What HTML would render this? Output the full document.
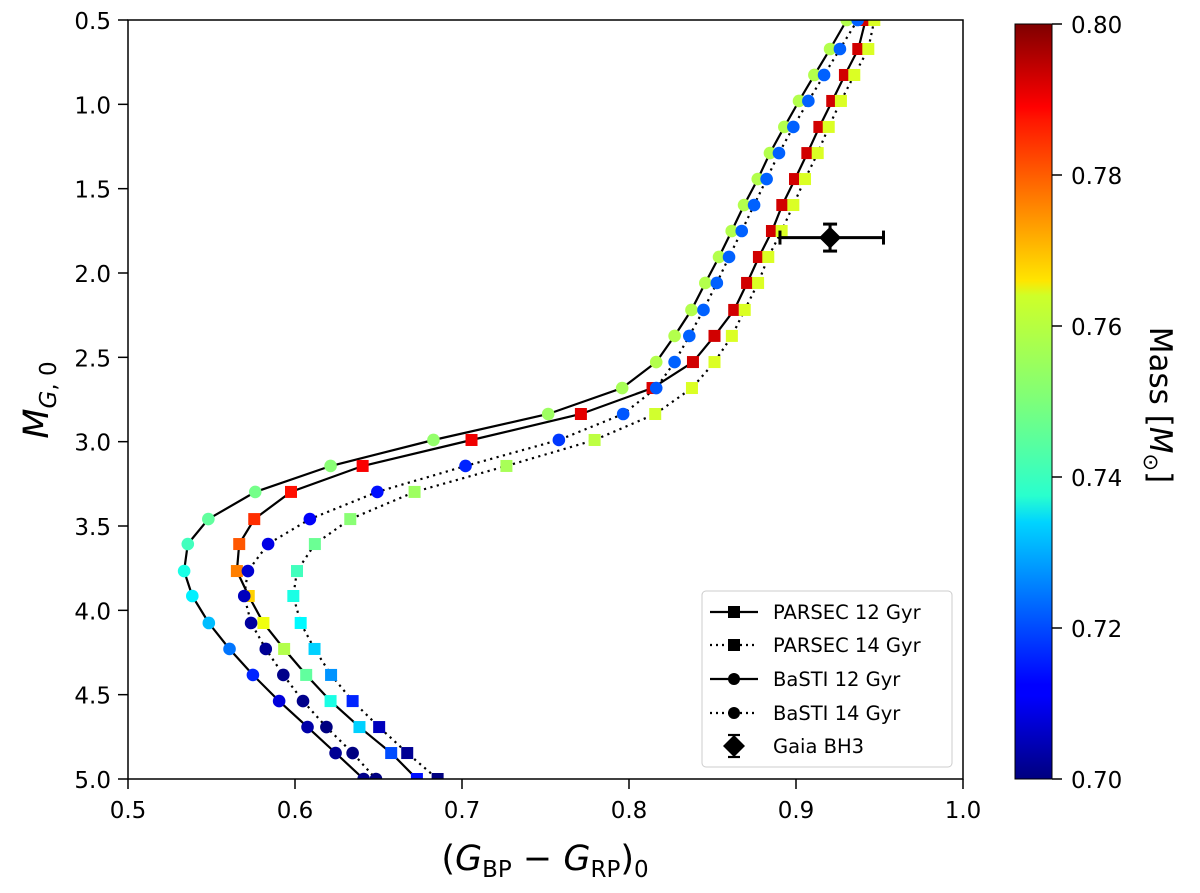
<!DOCTYPE html>
<html><head><meta charset="utf-8"><style>
body{margin:0;background:#fff}
svg{display:block;font-family:"DejaVu Sans","Liberation Sans",sans-serif}
</style></head><body>
<svg id="chart" width="1200" height="893" viewBox="0 0 1200 893">
<defs>
<linearGradient id="jet" x1="0" y1="1" x2="0" y2="0">
<stop offset="0" stop-color="#00007f"/><stop offset="0.11" stop-color="#0000ff"/><stop offset="0.125" stop-color="#0000ff"/>
<stop offset="0.34" stop-color="#00d4ff"/><stop offset="0.375" stop-color="#29ffce"/><stop offset="0.5" stop-color="#7dff7a"/>
<stop offset="0.64" stop-color="#ceff29"/><stop offset="0.66" stop-color="#ffe500"/><stop offset="0.875" stop-color="#ff1400"/>
<stop offset="0.89" stop-color="#ff0000"/><stop offset="1" stop-color="#7f0000"/>
</linearGradient>
<clipPath id="plotclip"><rect x="128" y="20" width="835" height="759"/></clipPath>
</defs>
<g id="series" clip-path="url(#plotclip)"></g>
<rect x="128" y="20" width="835" height="759" fill="none" stroke="#000" stroke-width="1.5"/>
<g id="axes"></g>
<text x="545" y="870" font-size="35" text-anchor="middle">(<tspan font-style="italic">G</tspan><tspan font-size="23" dy="7">BP</tspan><tspan dy="-7"> − </tspan><tspan font-style="italic">G</tspan><tspan font-size="23" dy="7">RP</tspan><tspan dy="-7">)</tspan><tspan font-size="23" dy="7">0</tspan></text>
<text transform="translate(48,400) rotate(-90)" font-size="35" text-anchor="middle"><tspan font-style="italic">M</tspan><tspan font-size="23" dy="8" font-style="italic">G</tspan><tspan font-size="23">, 0</tspan></text>
<rect x="1015" y="24" width="37" height="755" fill="url(#jet)" stroke="#000" stroke-width="1"/>
<text transform="translate(1150,405) rotate(90)" font-size="31" text-anchor="middle">Mass [<tspan font-style="italic">M</tspan><tspan font-size="21" dy="6">⊙</tspan><tspan dy="-6">]</tspan></text>
<g>
<rect x="702" y="591" width="250" height="176" rx="4" fill="#fff" stroke="#ccc" stroke-width="1"/>
<g><line x1="710" y1="612" x2="758" y2="612" stroke="#000" stroke-width="2.2"/><rect x="728" y="606" width="12" height="12"/><text x="773" y="619" font-size="19.5">PARSEC 12 Gyr</text></g>
<g><line x1="710" y1="645" x2="758" y2="645" stroke="#000" stroke-width="2.2" stroke-dasharray="2,4"/><rect x="728" y="639" width="12" height="12"/><text x="773" y="652" font-size="19.5">PARSEC 14 Gyr</text></g>
<g><line x1="710" y1="679" x2="758" y2="679" stroke="#000" stroke-width="2.2"/><circle cx="734" cy="679" r="6"/><text x="773" y="686" font-size="19.5">BaSTI 12 Gyr</text></g>
<g><line x1="710" y1="713" x2="758" y2="713" stroke="#000" stroke-width="2.2" stroke-dasharray="2,4"/><circle cx="734" cy="713" r="6"/><text x="773" y="720" font-size="19.5">BaSTI 14 Gyr</text></g>
<g><line x1="734" y1="735" x2="734" y2="757" stroke="#000" stroke-width="2.2"/><line x1="728" y1="735" x2="740" y2="735" stroke="#000" stroke-width="2.2"/><line x1="728" y1="757" x2="740" y2="757" stroke="#000" stroke-width="2.2"/><path d="M734 735 L745 746 L734 757 L723 746Z"/><text x="773" y="753" font-size="19.5">Gaia BH3</text></g>
</g>
</svg>
<script>
const magG = [0.50,0.672,0.826,0.980,1.134,1.289,1.443,1.597,1.751,1.905,2.059,2.219,2.373,2.528,2.682,2.836,2.990,3.144,3.298,3.459,3.607,3.767,3.915,4.075,4.229,4.383,4.538,4.692,4.846,5.0];
const basti12Color = [0.9304,0.9204,0.9110,0.9018,0.8930,0.8844,0.8771,0.8689,0.8615,0.8539,0.8457,0.8374,0.8273,0.8163,0.7959,0.7516,0.6829,0.6213,0.5762,0.5481,0.5358,0.5336,0.5385,0.5484,0.5608,0.5748,0.5905,0.6075,0.6243,0.6411];
const basti14Color = [0.9369,0.9263,0.9168,0.9074,0.8984,0.8898,0.8824,0.8749,0.8675,0.8599,0.8526,0.8446,0.8361,0.8273,0.8163,0.7965,0.7580,0.7021,0.6493,0.6089,0.5839,0.5718,0.5696,0.5737,0.5825,0.5930,0.6048,0.6188,0.6345,0.6485];
const parsec12Color = [0.9417,0.9373,0.9293,0.9217,0.9140,0.9068,0.8994,0.8918,0.8856,0.8778,0.8707,0.8630,0.8512,0.8383,0.8141,0.7712,0.7057,0.6405,0.5976,0.5756,0.5666,0.5652,0.5723,0.5811,0.5935,0.6067,0.6213,0.6386,0.6576,0.6730];
const parsec14Color = [0.9469,0.9433,0.9349,0.9269,0.9196,0.9130,0.9054,0.8984,0.8914,0.8834,0.8773,0.8693,0.8616,0.8512,0.8377,0.8157,0.7794,0.7266,0.6716,0.6331,0.6119,0.6012,0.5990,0.6034,0.6117,0.6216,0.6345,0.6504,0.6672,0.6854];
const basti12Mass = [0.755,0.755,0.755,0.755,0.755,0.755,0.755,0.755,0.755,0.755,0.755,0.755,0.755,0.755,0.754,0.753,0.752,0.751,0.749,0.747,0.744,0.740,0.736,0.731,0.724,0.716,0.709,0.704,0.702,0.701];
const basti14Mass = [0.722,0.722,0.722,0.722,0.722,0.722,0.722,0.722,0.722,0.722,0.722,0.722,0.722,0.722,0.721,0.721,0.718,0.716,0.714,0.712,0.710,0.708,0.706,0.703,0.702,0.701,0.701,0.700,0.700,0.700];
const parsec12Mass = [0.792,0.792,0.792,0.792,0.792,0.792,0.792,0.792,0.792,0.792,0.792,0.792,0.792,0.792,0.791,0.790,0.789,0.788,0.786,0.783,0.779,0.775,0.767,0.761,0.755,0.747,0.740,0.733,0.720,0.714];
const parsec14Mass = [0.759,0.759,0.759,0.759,0.759,0.759,0.759,0.759,0.759,0.759,0.759,0.759,0.759,0.759,0.759,0.758,0.756,0.754,0.753,0.751,0.748,0.744,0.740,0.737,0.733,0.727,0.716,0.706,0.702,0.700];
const bh3Color = [0.9204], bh3Mag = [1.79], bh3XErr = [0.030, 0.032], bh3YErr = [0.08];
const xTicks = [0.5,0.6,0.7,0.8,0.9,1.0];
const yTicks = [0.5,1.0,1.5,2.0,2.5,3.0,3.5,4.0,4.5,5.0];
const cbTicks = [0.70,0.72,0.74,0.76,0.78,0.80];

const NS='http://www.w3.org/2000/svg';
const X=v=>128+(v-0.5)/0.5*835;
const Y=v=>20+(v-0.5)/4.5*759;
const CB=m=>779-(m-0.70)/0.10*755;
function jet(m){const t=Math.min(1,Math.max(0,(m-0.70)/0.10));const c=v=>Math.round(255*Math.min(1,Math.max(0,v)));
return `rgb(${c(1.5-Math.abs(4*t-3))},${c(1.5-Math.abs(4*t-2))},${c(1.5-Math.abs(4*t-1))})`;}
function mk(tag,attrs,parent){const e=document.createElementNS(NS,tag);for(const k in attrs)e.setAttribute(k,attrs[k]);parent.appendChild(e);return e;}
const S=document.getElementById('series'), A=document.getElementById('axes');
const series=[
 {xs:parsec12Color,ms:parsec12Mass,dash:null,sq:true,name:'parsec-12gyr'},
 {xs:parsec14Color,ms:parsec14Mass,dash:'2.2,4.4',sq:true,name:'parsec-14gyr'},
 {xs:basti12Color,ms:basti12Mass,dash:null,sq:false,name:'basti-12gyr'},
 {xs:basti14Color,ms:basti14Mass,dash:'2.2,4.4',sq:false,name:'basti-14gyr'}];
series.forEach(s=>{
 const d=s.xs.map((v,i)=>(i?'L':'M')+X(v).toFixed(1)+' '+Y(magG[i]).toFixed(1)).join(' ');
 const p=mk('path',{d:d,fill:'none',stroke:'#000','stroke-width':2.2},S);
 if(s.dash)p.setAttribute('stroke-dasharray',s.dash);
 
 
});
series.forEach(s=>{
 s.xs.forEach((v,i)=>{
  let e;
  if(s.sq) e=mk('rect',{x:X(v)-6,y:Y(magG[i])-6,width:12,height:12,fill:jet(s.ms[i])},S);
  else e=mk('circle',{cx:X(v),cy:Y(magG[i]),r:6.3,fill:jet(s.ms[i])},S);
  
  
 });
});
{const g=mk('g',{},S);


const cx=X(bh3Color[0]), cy=Y(bh3Mag[0]), xl=X(bh3Color[0]-bh3XErr[0]), xr=X(bh3Color[0]+bh3XErr[1]), yt=Y(bh3Mag[0]-bh3YErr[0]), yb=Y(bh3Mag[0]+bh3YErr[0]);
mk('line',{x1:xl,y1:cy,x2:xr,y2:cy,stroke:'#000','stroke-width':3},g);
mk('line',{x1:xl,y1:cy-7,x2:xl,y2:cy+7,stroke:'#000','stroke-width':3},g);
mk('line',{x1:xr,y1:cy-7,x2:xr,y2:cy+7,stroke:'#000','stroke-width':3},g);
mk('line',{x1:cx,y1:yt,x2:cx,y2:yb,stroke:'#000','stroke-width':3},g);
mk('line',{x1:cx-7,y1:yt,x2:cx+7,y2:yt,stroke:'#000','stroke-width':3},g);
mk('line',{x1:cx-7,y1:yb,x2:cx+7,y2:yb,stroke:'#000','stroke-width':3},g);
mk('path',{d:`M${cx} ${cy-11} L${cx+11} ${cy} L${cx} ${cy+11} L${cx-11} ${cy}Z`,fill:'#000'},g);}
xTicks.forEach(v=>{
 const l=mk('line',{x1:X(v),y1:779,x2:X(v),y2:789,stroke:'#000','stroke-width':1.5},A);
 
 
 const t=mk('text',{x:X(v),y:818,'font-size':23,'text-anchor':'middle'},A);t.textContent=v.toFixed(1);
 
 
});
yTicks.forEach(v=>{
 const l=mk('line',{x1:118,y1:Y(v),x2:128,y2:Y(v),stroke:'#000','stroke-width':1.5},A);
 
 
 const t=mk('text',{x:111,y:Y(v)+9,'font-size':23,'text-anchor':'end'},A);t.textContent=v.toFixed(1);
 
 
});
cbTicks.forEach(v=>{
 const l=mk('line',{x1:1052,y1:CB(v),x2:1062,y2:CB(v),stroke:'#000','stroke-width':1.5},A);
 
 
 const t=mk('text',{x:1071,y:CB(v)+9,'font-size':23},A);t.textContent=v.toFixed(2);
 
 
});
</script>
</body></html>
